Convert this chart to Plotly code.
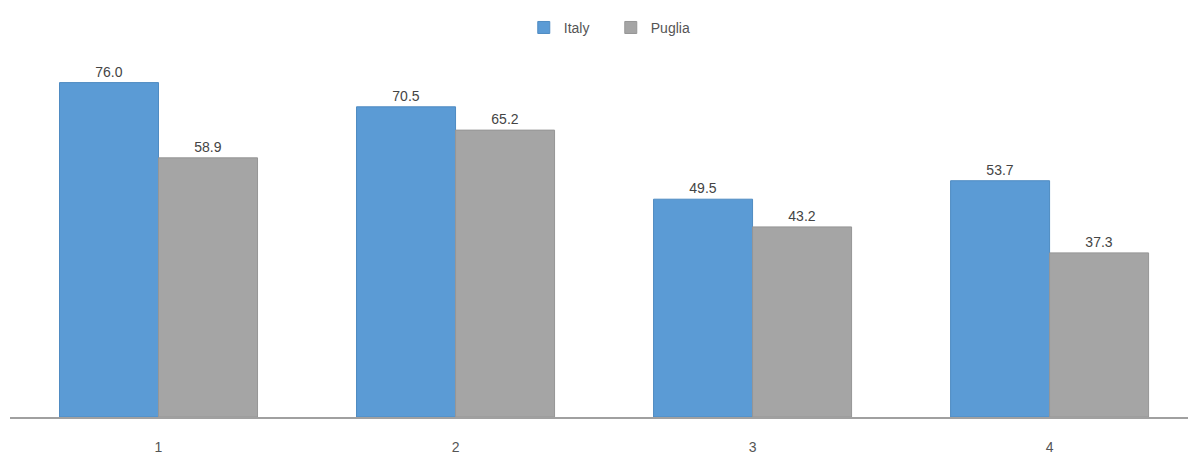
import plotly.graph_objects as go

categories = ["1", "2", "3", "4"]
italy = [76.0, 70.5, 49.5, 53.7]
puglia = [58.9, 65.2, 43.2, 37.3]

fig = go.Figure()
fig.add_trace(go.Bar(
    name="Italy", x=categories, y=italy,
    marker=dict(color="#5B9BD5", line=dict(color="#4F8BC2", width=1)),
    text=[f"{v:.1f}" for v in italy], textposition="outside",
    textfont=dict(size=14, color="#444444"), cliponaxis=False,
))
fig.add_trace(go.Bar(
    name="Puglia", x=categories, y=puglia,
    marker=dict(color="#A5A5A5", line=dict(color="#969696", width=1)),
    text=[f"{v:.1f}" for v in puglia], textposition="outside",
    textfont=dict(size=14, color="#444444"), cliponaxis=False,
))

fig.update_layout(
    width=1188, height=455,
    margin=dict(l=10, r=0, t=65, b=38),
    paper_bgcolor="white", plot_bgcolor="white",
    font=dict(family="Liberation Sans, Arial, sans-serif", size=13, color="#555555"),
    barmode="group", bargap=1/3, bargroupgap=0,
    showlegend=True,
    legend=dict(orientation="h", x=0.510, xanchor="center", y=1.06, yanchor="bottom",
                itemwidth=30, entrywidth=42, entrywidthmode="pixels",
                font=dict(size=14, color="#555555"), traceorder="normal"),
    xaxis=dict(type="category", range=[-0.5, 3.466], showline=True,
               linecolor="#A0A0A0", linewidth=2, showgrid=False, zeroline=False,
               ticks="", ticklabelstandoff=16, tickfont=dict(size=14, color="#555555")),
    yaxis=dict(range=[0, 80], showgrid=False, zeroline=False, showticklabels=False,
               showline=False),
)

fig.write_html("out.html")
